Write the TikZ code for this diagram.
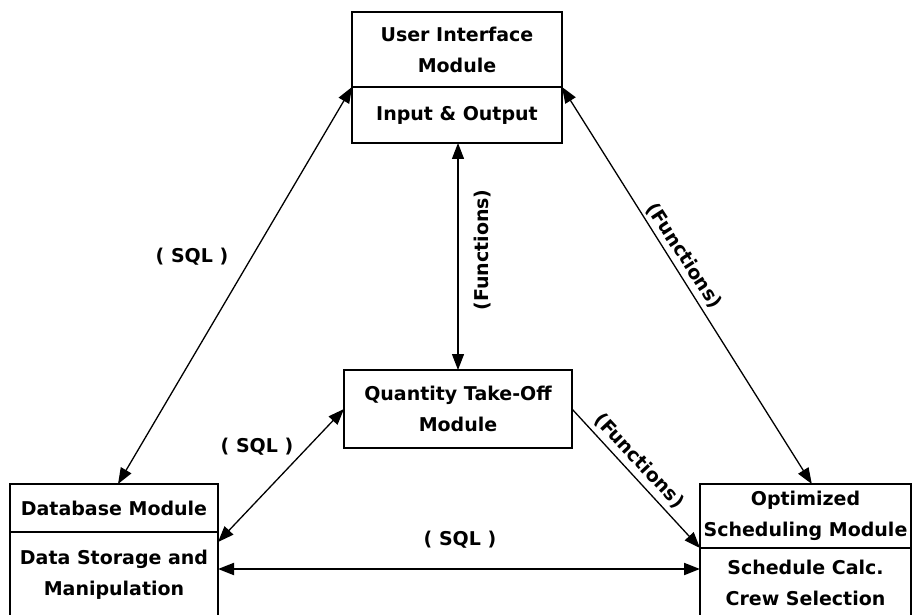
\documentclass[tikz,border=0pt]{standalone}
\usepackage{fontspec}
\setmainfont{DejaVu Sans}
\usetikzlibrary{arrows.meta,calc}
\begin{document}
\begin{tikzpicture}[x=1pt,y=-1pt,
  modbox/.style={draw, line width=2pt, inner sep=0pt, outer sep=0pt, align=center,
    font=\fontsize{19}{31}\selectfont\bfseries},
  lbl/.style={inner sep=0pt, font=\fontsize{19}{23}\selectfont\bfseries},
  tip/.tip={Triangle[length=16pt,width=12pt]},
  link/.style={line width=1.3pt, tip-tip},
  onelink/.style={line width=1.3pt, -tip}]
\useasboundingbox[fill=white] (0,0) rectangle (913,615);

% modules
\node[modbox, minimum width=210, minimum height=75] (uiT) at (457,49.5) {User Interface\\Module};
\node[modbox, minimum width=210, minimum height=56] (uiB) at (457,115) {Input \& Output};
\node[modbox, minimum width=228, minimum height=78] (qto) at (458,409) {Quantity Take-Off\\Module};
\node[modbox, minimum width=208, minimum height=48] (dbT) at (114,508) {Database Module};
\node[modbox, minimum width=208, minimum height=86] (dbB) at (114,575) {Data Storage and\\Manipulation};
\node[modbox, minimum width=211, minimum height=64] (osT) at (805.5,516) {Optimized\\Scheduling Module};
\node[modbox, minimum width=211, minimum height=70] (osB) at (805.5,583) {Schedule Calc.\\Crew Selection};

% connectors
\draw[link] (uiT.south west) -- ($(dbT.north)+(4,0)$);
\draw[link] (uiT.south east) -- ($(osT.north west)!0.53!(osT.north east)$);
\draw[link] (uiB.south -| qto.north) -- (qto.north);
\draw[link] (qto.west) -- ($(dbB.north east)+(0,10)$);
\draw[onelink] (qto.east) -- (osT.south west);
\coordinate (sqlL) at ($(dbB.north east)+(0,37)$);
\draw[link, line width=2pt] (sqlL) -- (sqlL -| osB.west);

% labels
\node[lbl] (l1) at (192,257) {( SQL )};
\node[lbl] (l2) at (257,447) {( SQL )};
\node[lbl] (l3) at (460,540) {( SQL )};
\node[lbl, rotate=90] (f1) at (483,250) {(Functions)};
\node[lbl, rotate=-57] (f2) at (684,256) {(Functions)};
\node[lbl, rotate=-47] (f3) at (639,461) {(Functions)};
\end{tikzpicture}
\end{document}
